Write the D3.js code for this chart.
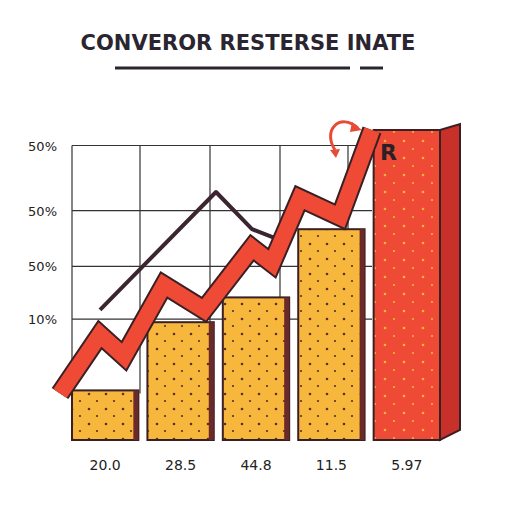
<!DOCTYPE html>
<html><head><meta charset="utf-8">
<script src="https://cdn.jsdelivr.net/npm/d3@7"></script>
<style>body{margin:0;background:#fff}</style>
</head><body><svg></svg>
<script>
// chart values
var title = 'CONVEROR RESTERSE INATE';
var categories = ['20.0', '28.5', '44.8', '11.5', '5.97'];
var barValues = [16, 38, 46, 68, 100];
var yTickValues = [95, 74, 56, 39];
var yTickLabels = ['50%', '50%', '50%', '10%'];
var zigX = [0, 10, 16, 26, 36, 48, 53, 60, 70, 78];
var zigY = [15, 34, 27, 50, 42, 62, 57, 78, 72, 100];
var darkX = [10, 39, 48, 56];
var darkY = [42, 80, 68, 64];

var W = 512, H = 512;
var svg = d3.select('svg').attr('width', W).attr('height', H);
var x = d3.scaleLinear().domain([0, 100]).range([60, 460]);
var y = d3.scaleLinear().domain([0, 100]).range([440, 130]);
var band = d3.scaleBand().domain(categories).range([x(3), x(95)]).paddingInner(0.12);

var defs = svg.append('defs');
var pat = defs.append('pattern').attr('id', 'dotsY').attr('width', 17).attr('height', 15)
    .attr('patternUnits', 'userSpaceOnUse');
pat.append('rect').attr('width', 17).attr('height', 15).attr('fill', '#f7b73c');
pat.append('circle').attr('cx', 4).attr('cy', 4).attr('r', 1.3).attr('fill', '#5a3020');
pat.append('circle').attr('cx', 12).attr('cy', 11).attr('r', 1.1).attr('fill', '#5a3020');
var pat2 = defs.append('pattern').attr('id', 'dotsR').attr('width', 19).attr('height', 17)
    .attr('patternUnits', 'userSpaceOnUse');
pat2.append('rect').attr('width', 19).attr('height', 17).attr('fill', '#ee4a35');
pat2.append('circle').attr('cx', 5).attr('cy', 5).attr('r', 1.3).attr('fill', '#f6b23a');
pat2.append('circle').attr('cx', 14).attr('cy', 13).attr('r', 1.1).attr('fill', '#f6b23a');

// title
svg.append('text').attr('x', 248).attr('y', 50).attr('text-anchor', 'middle')
    .attr('font-family', 'DejaVu Sans').attr('font-weight', 'bold').attr('font-size', 21)
    .attr('fill', '#2a2530').text(title);
svg.append('line').attr('x1', 115).attr('x2', 350).attr('y1', 68).attr('y2', 68)
    .attr('stroke', '#2a2530').attr('stroke-width', 3);
svg.append('line').attr('x1', 360).attr('x2', 383).attr('y1', 68).attr('y2', 68)
    .attr('stroke', '#2a2530').attr('stroke-width', 3);

// grid
var gx = [x(3), x(20), x(37.5), x(55), x(72)];
svg.selectAll('.vg').data(gx).enter().append('line')
    .attr('x1', d => d).attr('x2', d => d).attr('y1', y(95)).attr('y2', y(15))
    .attr('stroke', '#333').attr('stroke-width', 1.2);
svg.selectAll('.hg').data(yTickValues).enter().append('line')
    .attr('x1', x(3)).attr('x2', x(78)).attr('y1', d => y(d)).attr('y2', d => y(d))
    .attr('stroke', '#333').attr('stroke-width', 1.2);
svg.selectAll('.yl').data(yTickValues).enter().append('text')
    .attr('x', 57).attr('y', d => y(d) + 5).attr('text-anchor', 'end')
    .attr('font-family', 'DejaVu Sans').attr('font-size', 13).attr('fill', '#222')
    .text((d, i) => yTickLabels[i]);

// dark line
svg.append('path').datum(darkX.map((d, i) => [x(d), y(darkY[i])]))
    .attr('d', d3.line()).attr('fill', 'none').attr('stroke', '#3a2530')
    .attr('stroke-width', 4).attr('stroke-linejoin', 'round');

// bars
categories.forEach(function (c, i) {
    var bx = band(c), bw = band.bandwidth(), top = y(barValues[i]);
    var last = i === categories.length - 1;
    if (last) {
        svg.append('path').attr('d', 'M' + (bx + bw) + ',' + top + 'l20,-6v' + (y(0) - top - 4) + 'l-20,10z')
            .attr('fill', '#c8302a').attr('stroke', '#3a2025').attr('stroke-width', 2);
    }
    svg.append('rect').attr('x', bx).attr('y', top).attr('width', bw).attr('height', y(0) - top)
        .attr('fill', last ? 'url(#dotsR)' : 'url(#dotsY)')
        .attr('stroke', '#3a2025').attr('stroke-width', 2);
    if (!last) svg.append('rect').attr('x', bx + bw - 5).attr('y', top).attr('width', 5).attr('height', y(0) - top)
        .attr('fill', '#6a2a2a');
});

// red zigzag band
var zig = zigX.map((d, i) => [x(d), y(zigY[i])]);
svg.append('path').datum(zig).attr('d', d3.line()).attr('fill', 'none')
    .attr('stroke', '#3a2025').attr('stroke-width', 20).attr('stroke-linejoin', 'miter');
svg.append('path').datum(zig).attr('d', d3.line()).attr('fill', 'none')
    .attr('stroke', '#ee4a35').attr('stroke-width', 16).attr('stroke-linejoin', 'miter');

// arrow
svg.append('path').attr('d', 'M335,150 C322,130 340,112 358,128').attr('fill', 'none')
    .attr('stroke', '#e84a35').attr('stroke-width', 3);
svg.append('path').attr('d', 'M352,122 l10,8 l-12,2z').attr('fill', '#e84a35');
svg.append('path').attr('d', 'M330,150 l6,8 l4,-9z').attr('fill', '#e84a35');
svg.append('text').attr('x', 380).attr('y', 160).attr('font-family', 'DejaVu Sans')
    .attr('font-weight', 'bold').attr('font-size', 22).attr('fill', '#2a2025').text('R');

// x labels
svg.selectAll('.xl').data(categories).enter().append('text')
    .attr('x', d => band(d) + band.bandwidth() / 2).attr('y', 470).attr('text-anchor', 'middle')
    .attr('font-family', 'DejaVu Sans').attr('font-size', 14).attr('fill', '#222').text(d => d);
</script></body></html>
